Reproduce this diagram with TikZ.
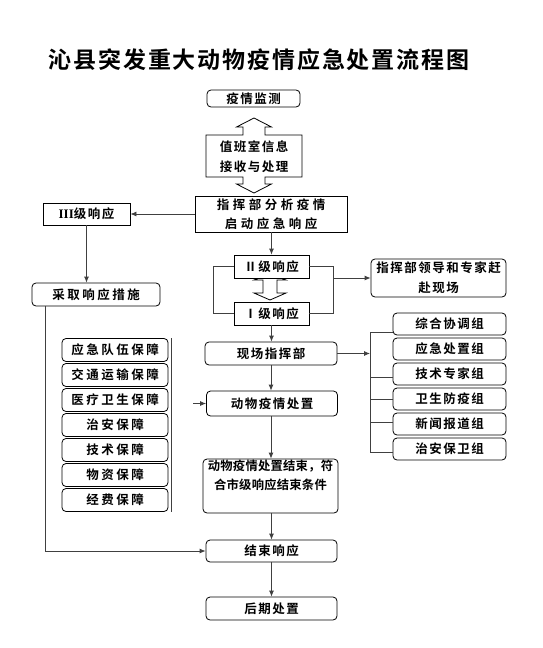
\documentclass[tikz,border=0pt]{standalone}
\usepackage{fontspec}
\setmainfont{Noto Sans CJK SC}[BoldFont={Noto Sans CJK SC Bold}]
\newfontfamily\fT{Noto Sans CJK SC Bold}[LetterSpace=8]
\newfontfamily\fA{Noto Sans CJK SC Bold}[LetterSpace=12]
\newfontfamily\fB{Noto Sans CJK SC Bold}[LetterSpace=28]
\newfontfamily\fP{Noto Sans CJK SC Bold}[LetterSpace=20]
\newfontfamily\fC{Noto Sans CJK SC Bold}[LetterSpace=2]
\newfontfamily\fR{Liberation Serif}
\usetikzlibrary{arrows.meta}
\tikzset{
  box/.style={draw=black, line width=0.8pt, fill=white, inner sep=0pt, align=center, text=black, font=\fA\fontsize{12.5}{20}\selectfont},
  rbox/.style={box, rounded corners=4pt},
  conn/.style={draw=black!75, line width=0.8pt},
  arr/.style={conn, -{Latex[length=6pt,width=5pt]}},
  dblarrow/.style={draw=black, line width=0.8pt, fill=white},
}
\begin{document}
\begin{tikzpicture}[x=1pt,y=-1pt]
\useasboundingbox (0,0) rectangle (543,648);
\fill[white] (0,0) rectangle (543,648);

% title
\node[inner sep=0pt, font=\fT\fontsize{23}{28}\selectfont] (title) at (259,60) {沁县突发重大动物疫情应急处置流程图};

% top group
\node[rbox, minimum width=93pt, minimum height=17pt] (jc) at (253.5,98.5) {疫情监测};
\draw[dblarrow] (206,135) -- (243,135) -- (243,127) -- (236.5,127) -- (254,118) -- (271.5,127) -- (265,127) -- (265,135) -- (302,135) -- (302,177) -- (265,177) -- (265,184) -- (271.5,184) -- (254,193) -- (236.5,184) -- (243,184) -- (243,177) -- (206,177) -- cycle;
\node[inner sep=0pt, align=center, font=\fA\fontsize{12.5}{20}\selectfont] (zb) at (254,157) {值班室信息\\接收与处理};

\node[box, minimum width=152pt, minimum height=36pt, font=\fB\fontsize{12.5}{19}\selectfont] (zhb) at (271,214) {指挥部分析疫情\\启动应急响应};

\node[box, minimum width=87pt, minimum height=22pt] (l3) at (86.5,214) {{\fR\bfseries\fontsize{13}{16}\selectfont III}级响应};
\node[rbox, minimum width=128pt, minimum height=23pt, font=\fP\fontsize{12.5}{20}\selectfont] (cq) at (96,294.5) {采取响应措施};

% II / I loop
\draw[dblarrow] (263,280) -- (254,280) -- (270,274) -- (286,280) -- (277,280) -- (277,293) -- (286,293) -- (270,300) -- (254,293) -- (263,293) -- cycle;
\node[box, minimum width=75pt, minimum height=23pt] (l2) at (271.5,266.5) {Ⅱ级响应};
\node[box, minimum width=75pt, minimum height=23pt] (l1) at (271.5,313.5) {Ⅰ级响应};
\coordinate (lpl) at (213,0);
\coordinate (lpr) at (333,0);
\draw[conn] (l2.west) -- (l2.west -| lpl) -- (l1.west -| lpl) -- (l1.west);
\draw[conn] (l2.east) -- (l2.east -| lpr) -- (l1.east -| lpr) -- (l1.east);
\node[rbox, minimum width=135pt, minimum height=38pt] (ld) at (438.5,278) {指挥部领导和专家赶\\赴现场};
\draw[arr] (ld.west -| lpr) -- (ld.west);

% scene command
\node[rbox, minimum width=132pt, minimum height=23pt] (xc) at (271,353.5) {现场指挥部};

% groups
\foreach \n/\t [count=\i from 0] in {g1/综合协调组,g2/应急处置组,g3/技术专家组,g4/卫生防疫组,g5/新闻报道组,g6/治安保卫组}{
  \node[rbox, minimum width=113pt, minimum height=22pt] (\n) at (449.5,324+25*\i) {\t};
}
\coordinate (br) at (370,0);
\draw[arr] (xc.east) -- (xc.east -| br);
\draw[conn] ([yshift=-8pt]g1.west -| br) -- ([yshift=-3pt]g6.west -| br);
\draw[conn] ([yshift=-8pt]g1.west -| br) -- ([yshift=-8pt]g1.west);
\draw[conn] ([yshift=-3pt]g3.west -| br) -- ([yshift=-3pt]g3.west);
\draw[conn] (g4.west -| br) -- (g4.west);
\draw[conn] ([yshift=2pt]g5.west -| br) -- ([yshift=2pt]g5.west);
\draw[conn] ([yshift=-3pt]g6.west -| br) -- ([yshift=-3pt]g6.west);

% disposal
\node[rbox, minimum width=131pt, minimum height=25pt] (dw) at (272,403.5) {动物疫情处置};
\coordinate (dwin) at (193,403.5);
\draw[arr] (dwin) -- (dw.west);

% guarantees
\foreach \n/\t [count=\i from 0] in {p1/应急队伍保障,p2/交通运输保障,p3/医疗卫生保障,p4/治安保障,p5/技术保障,p6/物资保障,p7/经费保障}{
  \node[rbox, minimum width=106pt, minimum height=23pt, font=\fP\fontsize{12.5}{20}\selectfont] (\n) at (115,350+25*\i) {\t};
}
\draw[conn] ([xshift=3pt]p1.north east) -- ([xshift=3pt]p7.south east);

% end
\node[rbox, minimum width=135pt, minimum height=54pt, font=\fC\fontsize{12.3}{19}\selectfont] (e1) at (270.5,486) {动物疫情处置结束，符\\合市级响应结束条件\\[3pt]};
\node[rbox, minimum width=131pt, minimum height=22pt] (js) at (271.5,551) {结束响应};
\node[rbox, minimum width=131pt, minimum height=23pt] (hq) at (271.5,608.5) {后期处置};

% connectors
\draw[arr] (zhb.west) -- (l3.east);
\draw[arr] (l3.south) -- (l3.south |- cq.north);
\draw[arr] (zhb.south -| l2.north) -- (l2.north);
\draw[arr] (l1.south) -- (l1.south |- xc.north);
\draw[arr] (xc.south) -- (xc.south |- dw.north);
\draw[arr] (dw.south -| xc.south) -- (xc.south |- e1.north);
\draw[arr] (e1.south -| js.north) -- (js.north);
\draw[arr] (js.south) -- (hq.north);
\coordinate (lft) at (45,0);
\draw[arr] (cq.south -| lft) -- (js.west -| lft) -- (js.west);
\end{tikzpicture}
\end{document}
